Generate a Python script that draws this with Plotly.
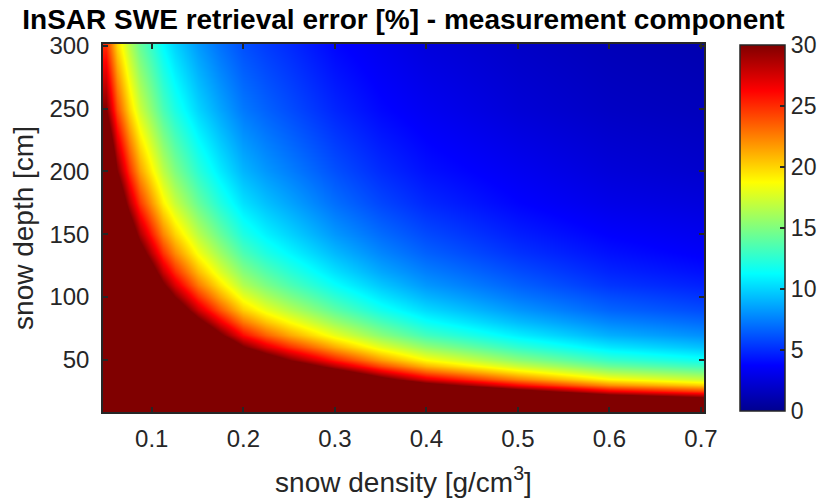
import plotly.graph_objects as go

# Snow density [g/cm^3] (columns) and snow depth [cm] (rows)
density = [0.05, 0.0625, 0.075, 0.0875, 0.1, 0.1125, 0.125, 0.15, 0.175,
           0.2, 0.225, 0.25, 0.3, 0.35, 0.4, 0.5, 0.6, 0.7]
depth = [10, 15, 20, 25, 30, 35, 40, 45, 50, 60, 70, 80, 90, 100,
         110, 120, 135, 150, 175, 200, 250, 300]

# Retrieval error [%] (60 = saturated, beyond colour limit)
error = [
    [60, 60, 60, 60, 60, 60, 60, 60, 60, 60, 60, 60, 60, 60, 60, 60, 60, 60],
    [60, 60, 60, 60, 60, 60, 60, 60, 60, 60, 60, 60, 60, 60, 60, 53.3, 45.1, 41.4],
    [60, 60, 60, 60, 60, 60, 60, 60, 60, 60, 60, 60, 60, 54.9, 47.9, 39.8, 33.6, 30.8],
    [60, 60, 60, 60, 60, 60, 60, 60, 60, 60, 60, 60, 51.5, 43.8, 38.2, 31.6, 26.7, 24.4],
    [60, 60, 60, 60, 60, 60, 60, 60, 60, 60, 54.7, 50.0, 42.8, 36.4, 31.7, 26.2, 22.1, 20.2],
    [60, 60, 60, 60, 60, 60, 60, 60, 60, 52.0, 46.9, 42.9, 36.7, 31.2, 27.1, 22.4, 18.8, 17.1],
    [60, 60, 60, 60, 60, 60, 60, 60, 53.5, 45.5, 41.0, 37.5, 32.0, 27.2, 23.6, 19.5, 16.3, 14.9],
    [60, 60, 60, 60, 60, 60, 60, 55.6, 47.6, 40.4, 36.4, 33.3, 28.4, 24.1, 20.9, 17.2, 14.4, 13.1],
    [60, 60, 60, 60, 60, 60, 60, 50.0, 42.8, 36.4, 32.8, 30.0, 25.5, 21.7, 18.8, 15.4, 12.9, 11.7],
    [60, 60, 60, 60, 60, 55.8, 50.0, 41.7, 35.7, 30.3, 27.3, 25.0, 21.2, 18.0, 15.6, 12.7, 10.6, 9.5],
    [60, 60, 60, 60, 54.3, 47.9, 42.9, 35.7, 30.6, 26.0, 23.4, 21.4, 18.1, 15.3, 13.2, 10.8, 8.9, 8.0],
    [60, 60, 60, 53.8, 47.5, 41.9, 37.5, 31.3, 26.8, 22.8, 20.5, 18.8, 15.8, 13.4, 11.5, 9.3, 7.7, 6.9],
    [60, 60, 55.6, 47.8, 42.2, 37.2, 33.3, 27.8, 23.8, 20.2, 18.2, 16.7, 14.0, 11.8, 10.2, 8.2, 6.7, 6.0],
    [60, 60, 50.0, 43.0, 38.0, 33.5, 30.0, 25.0, 21.4, 18.2, 16.4, 15.0, 12.6, 10.6, 9.1, 7.3, 6.0, 5.3],
    [60, 54.5, 45.5, 39.1, 34.5, 30.5, 27.3, 22.7, 19.5, 16.5, 14.9, 13.6, 11.4, 9.6, 8.2, 6.6, 5.3, 4.7],
    [60, 50.0, 41.7, 35.8, 31.7, 27.9, 25.0, 20.8, 17.8, 15.2, 13.7, 12.5, 10.4, 8.7, 7.5, 6.0, 4.8, 4.2],
    [55.6, 44.4, 37.0, 31.9, 28.1, 24.8, 22.2, 18.5, 15.9, 13.5, 12.1, 11.1, 9.2, 7.7, 6.6, 5.2, 4.2, 3.6],
    [50.0, 40.0, 33.3, 28.7, 25.3, 22.3, 20.0, 16.7, 14.3, 12.1, 10.9, 10.0, 8.2, 6.9, 5.9, 4.6, 3.7, 3.2],
    [42.9, 34.3, 28.6, 24.6, 21.7, 19.1, 17.1, 14.3, 12.2, 10.4, 9.4, 8.6, 7.0, 5.8, 4.9, 3.8, 3.0, 2.6],
    [37.5, 30.0, 25.0, 21.5, 19.0, 16.8, 15.0, 12.5, 10.7, 9.1, 8.2, 7.5, 6.1, 5.0, 4.2, 3.3, 2.5, 2.1],
    [30.0, 24.0, 20.0, 17.2, 15.2, 13.4, 12.0, 10.0, 8.6, 7.3, 6.6, 6.0, 4.8, 3.9, 3.3, 2.4, 1.8, 1.5],
    [25.0, 20.0, 16.7, 14.3, 12.7, 11.2, 10.0, 8.3, 7.1, 6.1, 5.5, 5.0, 3.9, 3.2, 2.6, 1.9, 1.4, 1.1],
]

x_ticks = [0.1, 0.2, 0.3, 0.4, 0.5, 0.6, 0.7]
y_ticks = [50, 100, 150, 200, 250, 300]
colorbar_ticks = [0, 5, 10, 15, 20, 25, 30]

jet = [
    [0.0, "rgb(0,0,143)"],
    [0.125, "rgb(0,0,255)"],
    [0.375, "rgb(0,255,255)"],
    [0.625, "rgb(255,255,0)"],
    [0.875, "rgb(255,0,0)"],
    [1.0, "rgb(128,0,0)"],
]

FONT = "Arial, 'Liberation Sans', Helvetica, sans-serif"
INK = "#262626"

fig = go.Figure(
    go.Heatmap(
        x=density,
        y=depth,
        z=error,
        zmin=0,
        zmax=30,
        zsmooth="best",
        colorscale=jet,
        colorbar=dict(
            x=1.06,
            xanchor="left",
            xref="paper",
            xpad=0,
            y=0.5,
            yanchor="middle",
            ypad=0,
            len=0.995,
            lenmode="fraction",
            thickness=45,
            thicknessmode="pixels",
            outlinecolor=INK,
            outlinewidth=1.5,
            tickvals=colorbar_ticks,
            ticks="inside",
            ticklen=5,
            tickcolor=INK,
            tickwidth=1.5,
            tickfont=dict(family=FONT, size=23, color=INK),
        ),
    )
)

fig.update_layout(
    width=825,
    height=500,
    margin=dict(l=103, r=121, t=44, b=88, autoexpand=False),
    paper_bgcolor="white",
    plot_bgcolor="white",
    title=dict(
        text="<b>InSAR SWE retrieval error [%] - measurement component</b>",
        font=dict(family=FONT, size=28, color="black"),
        x=403.5 / 825,
        xanchor="center",
        xref="container",
        y=1 - 19 / 500,
        yanchor="middle",
        yref="container",
    ),
    font=dict(family=FONT, color=INK),
)

fig.update_xaxes(
    range=[0.0467, 0.7033],
    tickvals=x_ticks,
    ticktext=[f"{v:.1f}" for v in x_ticks],
    ticks="inside",
    ticklen=5,
    tickcolor=INK,
    tickwidth=1.5,
    ticklabelstandoff=4,
    showline=True,
    linecolor=INK,
    linewidth=1.5,
    mirror="ticks",
    showgrid=False,
    zeroline=False,
    tickfont=dict(size=24, color=INK),
    title=dict(text="snow density [g/cm<sup>3</sup>]", font=dict(size=28, color=INK), standoff=22),
)

fig.update_yaxes(
    range=[8.5, 301.5],
    tickvals=y_ticks,
    ticks="inside",
    ticklen=5,
    tickcolor=INK,
    tickwidth=1.5,
    ticklabelstandoff=7,
    showline=True,
    linecolor=INK,
    linewidth=1.5,
    mirror="ticks",
    showgrid=False,
    zeroline=False,
    tickfont=dict(size=24, color=INK),
    title=dict(text="snow depth [cm]", font=dict(size=28, color=INK), standoff=8),
)

fig.write_html("out.html")
